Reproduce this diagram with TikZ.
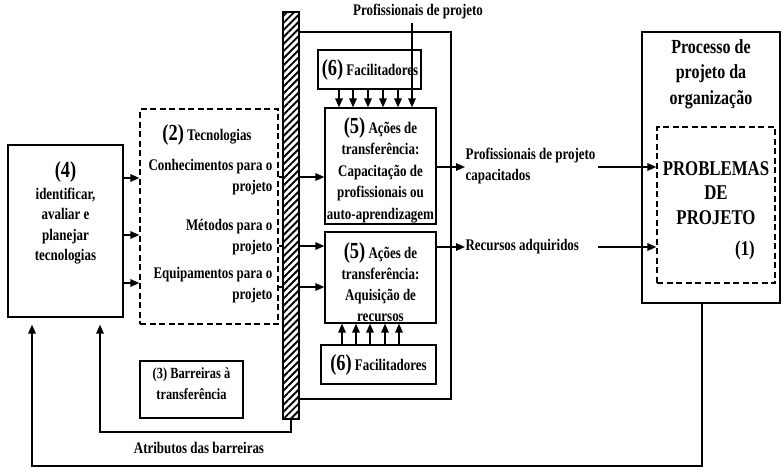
\documentclass[tikz,border=0pt]{standalone}
\usepackage{fontspec}
\setmainfont{Liberation Serif}[FakeStretch=0.8]
\usetikzlibrary{arrows.meta,patterns.meta}
\newcommand\bnum[1]{{\fontsize{23}{21}\selectfont #1}}
\begin{document}
\begin{tikzpicture}[x=1pt,y=-1pt,line width=1.2pt,
  box/.style={draw,rectangle,inner sep=0pt},
  dbox/.style={box,dash pattern=on 6pt off 3.5pt},
  txt/.style={font=\fontsize{16.2}{21}\selectfont\bfseries,inner sep=0pt,align=center},
  bigtxt/.style={font=\fontsize{20.5}{25}\selectfont\bfseries,inner sep=0pt,align=center},
  arr/.style={-{Triangle[length=9pt,width=7.5pt]},line width=1.5pt},
  hatchbar/.style={draw,rectangle,inner sep=0pt,preaction={fill=white},
    pattern={Lines[angle=45,distance=5pt,line width=1.9pt]}}]
\useasboundingbox (0,0) rectangle (782,469);

% boxes
\node[box,minimum width=115pt,minimum height=172pt] (n4) at (65.5,231) {};
\node[dbox,minimum width=138pt,minimum height=215pt] (tec) at (209,216.5) {};
\node[box,minimum width=152pt,minimum height=367pt] (frame) at (375,215.5) {};
\node[box,minimum width=103pt,minimum height=39pt] (fac1) at (369.5,69.5) {};
\node[box,minimum width=111pt,minimum height=116pt] (a5) at (380.5,166) {};
\node[box,minimum width=111pt,minimum height=91pt] (b5) at (380.5,277.5) {};
\node[box,minimum width=115pt,minimum height=39pt] (fac2) at (378.5,364.5) {};
\node[box,minimum width=103pt,minimum height=57pt] (bar3) at (191.5,389.5) {};
\node[box,minimum width=138pt,minimum height=271pt] (proc) at (711,167.5) {};
\node[dbox,minimum width=118pt,minimum height=156pt] (prob) at (716,205) {};

% texts
\node[txt] (t4a) at (65.5,172) {\bnum{(4)}};
\node[txt,font=\fontsize{16.2}{20.3}\selectfont\bfseries] (t4b) at (65.5,226) {identificar,\\avaliar e\\planejar\\tecnologias};
\node[txt] (t2) at (207,135) {\bnum{(2)} Tecnologias};
\node[txt,align=right,anchor=east] (tc1) at (273,177.5) {Conhecimentos para o\\projeto};
\node[txt,align=right,anchor=east] (tc2) at (273,237) {Métodos para o\\projeto};
\node[txt,align=right,anchor=east] (tc3) at (273,285) {Equipamentos para o\\projeto};
\node[txt] (tf1) at (370,70) {\bnum{(6)} Facilitadores};
\node[txt,font=\fontsize{16.2}{21.5}\selectfont\bfseries] (ta5) at (380.5,170) {\bnum{(5)} Ações de\\transferência:\\Capacitação de\\profissionais ou\\auto-aprendizagem};
\node[txt] (tb5) at (380.5,282) {\bnum{(5)} Ações de\\transferência:\\Aquisição de\\recursos};
\node[txt] (tf2) at (378.5,365) {\bnum{(6)} Facilitadores};
\node[txt,font=\fontsize{15.5}{21}\selectfont\bfseries] (t3) at (191.5,384) {(3) Barreiras à\\transferência};
\node[txt] (ttop) at (418,12) {Profissionais de projeto};
\node[txt,align=left,anchor=west] (lcap) at (465,166) {Profissionais de projeto\\capacitados};
\node[txt,align=left,anchor=west] (lrec) at (465,247) {Recursos adquiridos};
\node[bigtxt,font=\fontsize{20}{25.5}\selectfont\bfseries] (tproc) at (711,74) {Processo de\\projeto da\\organização};
\node[bigtxt,font=\fontsize{21}{24.5}\selectfont\bfseries] (tprob) at (716,193) {PROBLEMAS\\DE\\PROJETO};
\node[bigtxt,font=\fontsize{21}{24}\selectfont\bfseries] (t1) at (745,250) {(1)};
\node[txt] (tattr) at (199,448) {Atributos das barreiras};

% arrows box 4 -> technologies
\foreach \yy in {178,235,283}
  \draw[arr] (n4.east |- 0,\yy) -- (tec.west |- 0,\yy);

% technologies -> transfer actions (through the barrier)
\draw[arr] (tec.east |- 0,177) -- (a5.west |- 0,177);
\draw[arr] (tec.east |- 0,246) -- (b5.west |- 0,246);
\draw[arr] (tec.east |- 0,287) -- (b5.west |- 0,287);

% barrier bar
\node[hatchbar,minimum width=16pt,minimum height=407pt] (hatch) at (291,215.5) {};

% facilitators
\foreach \xx in {339,353,368,383,398}
  \draw[arr] (fac1.south -| \xx,0) -- (a5.north -| \xx,0);
\foreach \xx in {342,356,370,385,399}
  \draw[arr] (fac2.north -| \xx,0) -- (b5.south -| \xx,0);
\draw[arr] (ttop.south -| 412,0) ++(0,3) -- (a5.north -| 412,0);

% outputs
\draw[arr] (a5.east |- 0,167) -- (lcap.west |- 0,167);
\draw[arr] (b5.east |- 0,247) -- (lrec.west |- 0,247);
\coordinate (c1) at (598,167);
\coordinate (c2) at (598,247);
\draw[arr] (c1) -- (prob.west |- c1);
\draw[arr] (c2) -- (prob.west |- c2);

% feedback
\draw[arr,shorten >=7pt] (proc.south -| 702,0) -- (702,466) -| (n4.south -| 32,0);
\draw[arr,shorten >=7pt] (hatch.south) -- (291,432) -| (n4.south -| 100,0);
\end{tikzpicture}
\end{document}
